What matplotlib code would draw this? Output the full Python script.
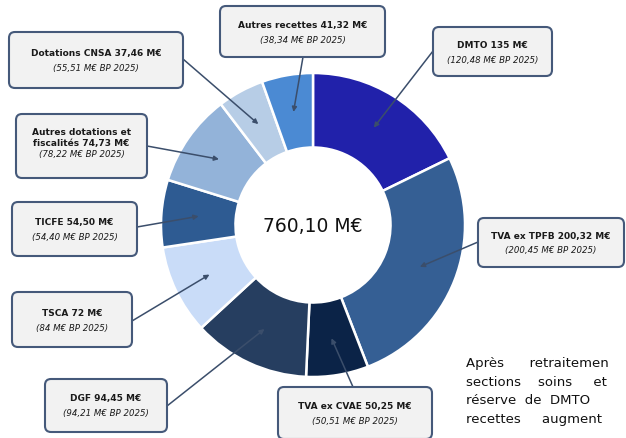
import numpy as np
import matplotlib.pyplot as plt
from matplotlib.patches import FancyBboxPatch

# ----------------------------
# Data
# ----------------------------
labels = ["DMTO 135 M€", "TVA ex TPFB 200,32 M€", "TVA ex CVAE 50,25 M€",
          "DGF 94,45 M€", "TSCA 72 M€", "TICFE 54,50 M€",
          "Autres dotations et\nfiscalités 74,73 M€", "Dotations CNSA 37,46 M€",
          "Autres recettes 41,32 M€"]
bp_labels = ["(120,48 M€ BP 2025)", "(200,45 M€ BP 2025)", "(50,51 M€ BP 2025)",
             "(94,21 M€ BP 2025)", "(84 M€ BP 2025)", "(54,40 M€ BP 2025)",
             "(78,22 M€ BP 2025)", "(55,51 M€ BP 2025)", "(38,34 M€ BP 2025)"]
values = [135, 200.32, 50.25, 94.45, 72, 54.50, 74.73, 37.46, 41.32]
total_label = "760,10 M€"

colors = ["#2121AA", "#355F94", "#0B2347", "#263E60", "#C9DCF8",
          "#2E5B92", "#93B3D9", "#B7CDE6", "#4B8AD3"]

# box rectangles in pixels (left, top, right, bottom) and arrow tails
boxes = [(433, 28, 552, 77), (478, 219, 624, 268), (278, 388, 432, 440),
         (45, 380, 167, 433), (12, 293, 132, 348), (12, 203, 137, 257),
         (16, 115, 147, 179), (9, 33, 183, 89), (220, 7, 385, 58)]
tails = [(433, 52), (478, 243), (353, 388), (167, 407), (132, 322),
         (137, 228), (147, 147), (183, 60), (303, 58)]

# side text as visible in the (cropped) reference
body = ["Après      retraitemen",
        "sections    soins     et",
        "réserve  de  DMTO",
        "recettes     augment"]

W, H = 626, 439
cx, cy, R = 313, 226, 152

fig = plt.figure(figsize=(W / 100, H / 100), dpi=100)
ax = fig.add_axes([0, 0, 1, 1])

wedges, _ = ax.pie(values, colors=colors, radius=R, center=(cx, H - cy),
                   startangle=90, counterclock=False, frame=True,
                   wedgeprops=dict(width=R * 0.49, edgecolor="white", linewidth=1.8))
ax.set_xlim(0, W)
ax.set_ylim(0, H)
ax.axis("off")

ax.text(cx, H - cy, total_label, ha="center", va="center", fontsize=13.5,
        color="#111111")

edge = "#45597A"
for w, lab, bp, (l, t, r, b), (tx, ty) in zip(wedges, labels, bp_labels, boxes, tails):
    # arrow head at centre of wedge ring
    ang = np.deg2rad((w.theta1 + w.theta2) / 2)
    rm = R * 0.755
    hx = cx + rm * np.cos(ang)
    hy = (H - cy) + rm * np.sin(ang)
    ax.annotate("", xy=(hx, hy), xytext=(tx, H - ty),
                arrowprops=dict(arrowstyle="-|>", color="#3B4E6B", lw=1.1,
                                mutation_scale=7, shrinkA=0, shrinkB=0))
    box = FancyBboxPatch((l + 6, H - b + 6), (r - l) - 12, (b - t) - 12,
                         boxstyle="round,pad=6", facecolor="#F2F2F2",
                         edgecolor=edge, linewidth=1.5, zorder=3)
    ax.add_patch(box)
    mx = (l + r) / 2
    my = H - (t + b) / 2
    nlines = lab.count("\n") + 1
    ax.text(mx, my + 7.5 + 1.5 * (nlines - 1), lab, ha="center", va="center",
            fontsize=6.5, fontweight="bold", color="#1A1A1A", zorder=4,
            linespacing=1.3)
    ax.text(mx, my - 7.5, bp, ha="center", va="center",
            fontsize=6.2, style="italic", color="#1A1A1A", zorder=4)

for i, line in enumerate(body):
    ax.text(466, H - 364 - 18.5 * i, line, ha="left", va="center",
            fontsize=9.5, color="#111111")

fig.savefig("out.png", dpi=100)
